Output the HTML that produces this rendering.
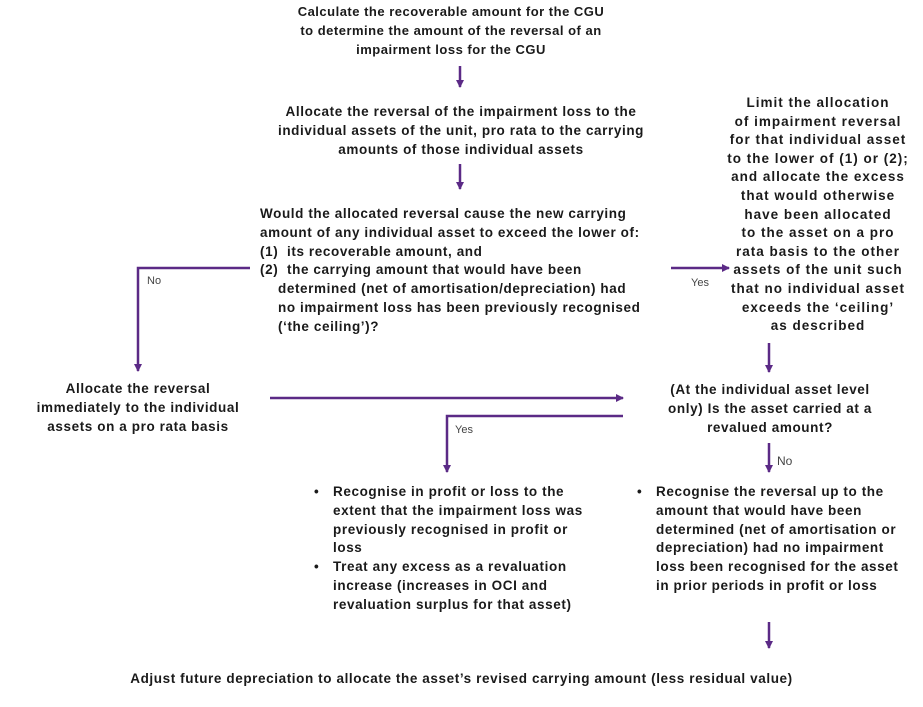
<!DOCTYPE html>
<html><head><meta charset="utf-8"><style>
body{margin:0;width:923px;height:707px;background:#fff;position:relative;font-family:"Liberation Sans",sans-serif;font-weight:bold;font-size:13.5px;letter-spacing:0.6px;color:#1a1a1a;overflow:hidden}
.t{position:absolute;line-height:18.8px;white-space:nowrap}
.c{text-align:center}
.l{position:absolute;font-weight:normal;font-size:11px;letter-spacing:0;color:#444}
ul{margin:0;padding:0 0 0 19px;list-style:none}
li{position:relative}
li:before{content:"•";position:absolute;left:-19px}
</style></head><body>
<svg width="923" height="707" style="position:absolute;left:0;top:0">
<defs><marker id="a" markerWidth="8" markerHeight="8" refX="7" refY="4" orient="auto" markerUnits="userSpaceOnUse"><path d="M0,0 L8,4 L0,8 z" fill="#5b2a86"/></marker></defs>
<g stroke="#5b2a86" stroke-width="2.5" fill="none" marker-end="url(#a)">
<line x1="460" y1="66" x2="460" y2="87"/>
<line x1="460" y1="164" x2="460" y2="189"/>
<polyline points="250,268 138,268 138,371"/>
<line x1="671" y1="268" x2="729" y2="268"/>
<line x1="769" y1="343" x2="769" y2="372"/>
<line x1="270" y1="398" x2="623" y2="398"/>
<polyline points="623,416 447,416 447,472"/>
<line x1="769" y1="443" x2="769" y2="472"/>
<line x1="769" y1="622" x2="769" y2="648"/>
</g>
</svg>
<div class="t c" style="left:201px;width:500px;top:3px;font-size:13px;letter-spacing:0.5px">Calculate the recoverable amount for the CGU<br>to determine the amount of the reversal of an<br>impairment loss for the CGU</div>
<div class="t c" style="left:211px;width:500px;top:103px">Allocate the reversal of the impairment loss to the<br>individual assets of the unit, pro rata to the carrying<br>amounts of those individual assets</div>
<div class="t" style="left:260px;top:205px">Would the allocated reversal cause the new carrying<br>amount of any individual asset to exceed the lower of:<br>(1)&nbsp; its recoverable amount, and<br>(2)&nbsp; the carrying amount that would have been<br><span style="padding-left:18px">determined (net of amortisation/depreciation) had</span><br><span style="padding-left:18px">no impairment loss has been previously recognised</span><br><span style="padding-left:18px">(‘the ceiling’)?</span></div>
<div class="t c" style="left:708px;width:220px;top:94px;line-height:18.6px;letter-spacing:1px">Limit the allocation<br>of impairment reversal<br>for that individual asset<br>to the lower of (1) or (2);<br>and allocate the excess<br>that would otherwise<br>have been allocated<br>to the asset on a pro<br>rata basis to the other<br>assets of the unit such<br>that no individual asset<br>exceeds the ‘ceiling’<br>as described</div>
<div class="l" style="left:147px;top:275px">No</div>
<div class="l" style="left:691px;top:277px">Yes</div>
<div class="t c" style="left:8px;width:260px;top:380px">Allocate the reversal<br>immediately to the individual<br>assets on a pro rata basis</div>
<div class="t c" style="left:620px;width:300px;top:381px">(At the individual asset level<br>only) Is the asset carried at a<br>revalued amount?</div>
<div class="l" style="left:455px;top:424px">Yes</div>
<div class="l" style="left:777px;top:454px;font-size:12px">No</div>
<div class="t" style="left:314px;top:483px"><ul><li>Recognise in profit or loss to the<br>extent that the impairment loss was<br>previously recognised in profit or<br>loss</li><li>Treat any excess as a revaluation<br>increase (increases in OCI and<br>revaluation surplus for that asset)</li></ul></div>
<div class="t" style="left:637px;top:483px"><ul><li>Recognise the reversal up to the<br>amount that would have been<br>determined (net of amortisation or<br>depreciation) had no impairment<br>loss been recognised for the asset<br>in prior periods in profit or loss</li></ul></div>
<div class="t c" style="left:0px;width:923px;top:670px">Adjust future depreciation to allocate the asset’s revised carrying amount (less residual value)</div>
</body></html>
